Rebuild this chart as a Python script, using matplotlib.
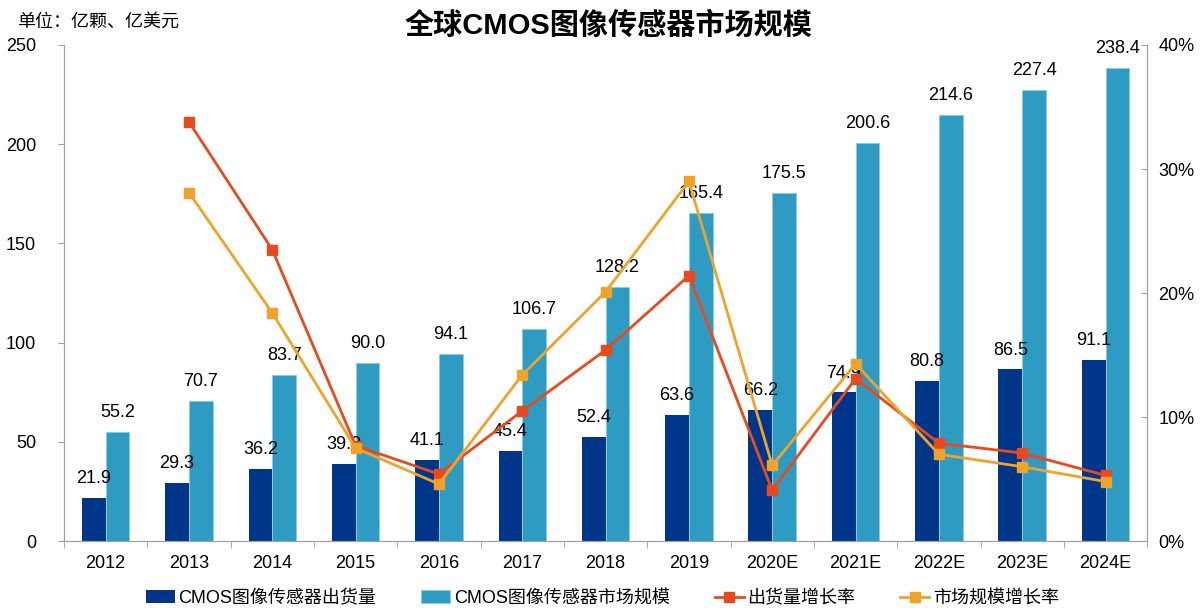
import numpy as np
import matplotlib.pyplot as plt
from matplotlib.ticker import FuncFormatter

plt.rcParams['font.family'] = ['Liberation Sans', 'Noto Sans CJK SC', 'DejaVu Sans']

# Données
years = ['2012', '2013', '2014', '2015', '2016', '2017', '2018', '2019',
         '2020E', '2021E', '2022E', '2023E', '2024E']
shipments = [21.9, 29.3, 36.2, 39.0, 41.1, 45.4, 52.4, 63.6, 66.2, 74.9, 80.8, 86.5, 91.1]
market = [55.2, 70.7, 83.7, 90.0, 94.1, 106.7, 128.2, 165.4, 175.5, 200.6, 214.6, 227.4, 238.4]
ship_growth = [None, 33.8, 23.5, 7.7, 5.4, 10.5, 15.4, 21.4, 4.1, 13.1, 7.9, 7.1, 5.3]
market_growth = [None, 28.1, 18.4, 7.5, 4.6, 13.4, 20.1, 29.0, 6.1, 14.3, 7.0, 6.0, 4.8]

c_dark = '#00368A'
c_light = '#2E9BC2'
c_red = '#E84A1E'
c_orange = '#F0A32A'
c_axis = '#A0A0A0'

fig = plt.figure(figsize=(12, 6.08), dpi=100)
ax = fig.add_axes([0.0533, 0.110, 0.9027, 0.816])
ax2 = ax.twinx()

x = np.arange(len(years))
w = 0.285
b1 = ax.bar(x - w / 2, shipments, w, color=c_dark, label='CMOS图像传感器出货量', zorder=2)
b2 = ax.bar(x + w / 2, market, w, color=c_light, edgecolor='#8CCBE3', linewidth=0.6,
            label='CMOS图像传感器市场规模', zorder=2)

for xi, v in zip(x, shipments):
    ax.text(xi - w / 2, v + 5.5, f'{v:.1f}', ha='center', va='bottom', fontsize=13, zorder=5)
for xi, v in zip(x, market):
    ax.text(xi + w / 2, v + 5.5, f'{v:.1f}', ha='center', va='bottom', fontsize=13, zorder=5)

sg = np.array([np.nan if v is None else v for v in ship_growth], dtype=float)
mg = np.array([np.nan if v is None else v for v in market_growth], dtype=float)
l1, = ax2.plot(x, sg, color=c_red, lw=2, marker='s', ms=7, label='出货量增长率', zorder=4)
l2, = ax2.plot(x, mg, color=c_orange, lw=2, marker='s', ms=7, label='市场规模增长率', zorder=4)

ax.set_xlim(-0.5, len(years) - 0.5)
ax.set_ylim(0, 250)
ax.set_yticks(range(0, 251, 50))
ax2.set_ylim(0, 40)
ax2.set_yticks(range(0, 41, 10))
ax2.yaxis.set_major_formatter(FuncFormatter(lambda v, p: f'{v:.0f}%'))

ax.set_xticks(x)
ax.set_xticklabels(years)
ax.set_xticks(np.arange(-0.5, len(years), 1), minor=True)
ax.tick_params(axis='x', which='major', length=0, pad=10, labelsize=13)
ax.tick_params(axis='x', which='minor', length=5, color=c_axis, direction='out')
ax.tick_params(axis='y', labelsize=13, length=4, color=c_axis, pad=16)
ax2.tick_params(axis='y', labelsize=13, length=4, color=c_axis, direction='in', pad=8)

for a in (ax, ax2):
    a.spines['top'].set_visible(False)
    for s in ('left', 'right', 'bottom'):
        a.spines[s].set_color(c_axis)
ax.set_zorder(1)
ax2.set_zorder(2)
ax.patch.set_visible(False)
ax2.patch.set_visible(False)

fig.text(0.507, 0.958, '全球CMOS图像传感器市场规模', ha='center', va='center',
         fontsize=21, fontweight='bold', family=['Liberation Sans', 'Noto Sans CJK SC'])
fig.text(0.014, 0.965, '单位：亿颗、亿美元', ha='left', va='center', fontsize=13,
         family=['Noto Sans CJK SC'])

fig.legend(handles=[b1, b2, l1, l2], loc='center', bbox_to_anchor=(0.502, 0.016), ncol=4,
           frameon=False, fontsize=13, handlelength=1.6, columnspacing=2.5, handletextpad=0.2)

plt.savefig('out.png', dpi=100)
